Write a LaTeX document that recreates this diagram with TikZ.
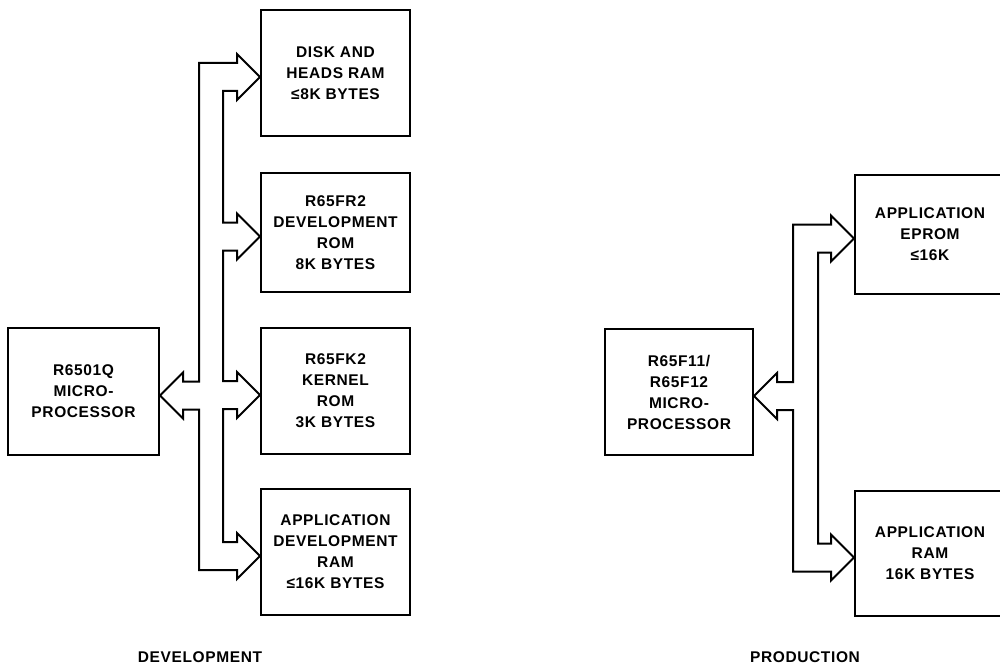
\documentclass[tikz,border=0pt]{standalone}
\usepackage{fontspec}
\setmainfont{Liberation Sans}[LetterSpace=4]
\usetikzlibrary{positioning,calc}

\tikzset{
  unit/.style={draw, line width=2pt, minimum width=149pt, minimum height=126pt,
    align=center, font=\bfseries\fontsize{15.5}{21}\selectfont},
  bus/.style={line width=2pt, line join=miter},
  caption/.style={font=\bfseries\fontsize{15.5}{21}\selectfont}
}

\begin{document}
\begin{tikzpicture}[x=1pt,y=-1pt]
    \useasboundingbox (0,0) rectangle (1000,666);

    % development system
    \node[unit, minimum width=151pt, minimum height=127pt] (cpu) at (83.5,391.5) {R6501Q\\MICRO-\\PROCESSOR};
    \foreach \n/\y/\h/\l in {dk/73/126/{DISK AND\\HEADS RAM\\≤8K BYTES},
                             dr/232.5/119/{R65FR2\\DEVELOPMENT\\ROM\\8K BYTES},
                             kr/391/126/{R65FK2\\KERNEL\\ROM\\3K BYTES},
                             ar/552/126/{APPLICATION\\DEVELOPMENT\\RAM\\≤16K BYTES}} {
        \node[unit, minimum height=\h pt] (\n) at (335.5,\y) {\l};
    }

    % production system
    \node[unit, minimum width=148pt] (mc) at (679,392) {R65F11/\\R65F12\\MICRO-\\PROCESSOR};
    \node[unit, minimum width=150pt, minimum height=119pt] (ep) at (930,234.5) {APPLICATION\\EPROM\\≤16K};
    \node[unit, minimum width=150pt, minimum height=125pt] (ra) at (930,553.5) {APPLICATION\\RAM\\16K BYTES};

    % arrow tips and shaft edges
    \foreach \n/\a in {cpu/east, dk/west, dr/west, kr/west, ar/west, mc/east, ep/west, ra/west} {
        \coordinate (\n-t) at ([yshift=-4pt]\n.\a);
        \coordinate (\n-u) at ([yshift=14pt]\n-t);
        \coordinate (\n-d) at ([yshift=-14pt]\n-t);
    }
    \coordinate (lo) at (199,0);
    \coordinate (li) at (223,0);
    \coordinate (ro) at (793,0);
    \coordinate (ri) at (818,0);

    % hollow bus, development
    \draw[bus] (dk-t) -- ++(-23,-23) -- ++(0,9) -- (lo |- dk-u) -- (lo |- cpu-u)
        -- ([xshift=23pt]cpu-u) -- ++(0,-9) -- (cpu-t) -- ++(23,23) -- ++(0,-9)
        -- (lo |- cpu-d) -- (lo |- ar-d) -- ([xshift=-23pt]ar-d) -- ++(0,9) -- (ar-t)
        -- ++(-23,-23) -- ++(0,9) -- (li |- ar-u) -- (li |- kr-d)
        -- ([xshift=-23pt]kr-d) -- ++(0,9) -- (kr-t) -- ++(-23,-23) -- ++(0,9)
        -- (li |- kr-u) -- (li |- dr-d)
        -- ([xshift=-23pt]dr-d) -- ++(0,9) -- (dr-t) -- ++(-23,-23) -- ++(0,9)
        -- (li |- dr-u) -- (li |- dk-d)
        -- ([xshift=-23pt]dk-d) -- ++(0,9) -- cycle;

    % hollow bus, production
    \draw[bus] (ep-t) -- ++(-23,-23) -- ++(0,9) -- (ro |- ep-u) -- (ro |- mc-u)
        -- ([xshift=23pt]mc-u) -- ++(0,-9) -- (mc-t) -- ++(23,23) -- ++(0,-9)
        -- (ro |- mc-d) -- (ro |- ra-d) -- ([xshift=-23pt]ra-d) -- ++(0,9) -- (ra-t)
        -- ++(-23,-23) -- ++(0,9) -- (ri |- ra-u) -- (ri |- ep-d)
        -- ([xshift=-23pt]ep-d) -- ++(0,9) -- cycle;

    \node[caption] (dev) at (200,657) {DEVELOPMENT};
    \node[caption] (prod) at (805,657) {PRODUCTION};
\end{tikzpicture}
\end{document}
